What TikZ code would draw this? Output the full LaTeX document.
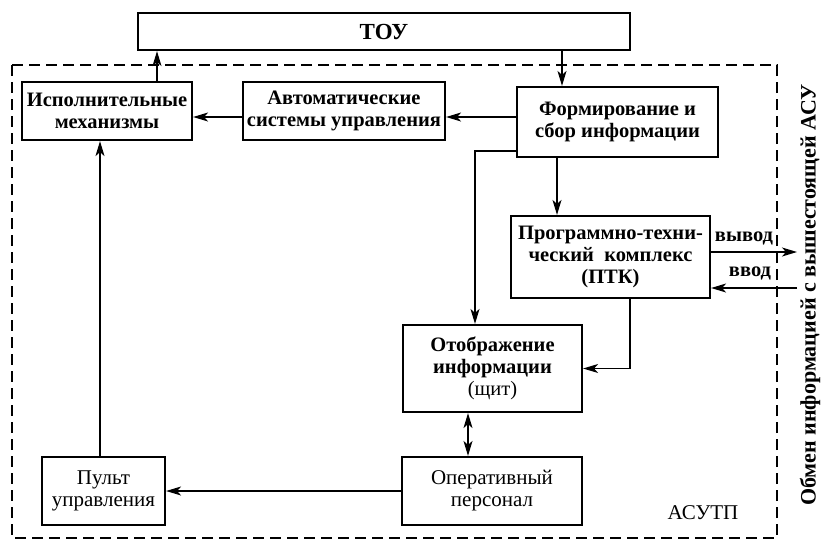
\documentclass[tikz,border=0pt]{standalone}
\usepackage{fontspec}
\setmainfont{Liberation Serif}
\usetikzlibrary{arrows.meta}
\tikzset{
  box/.style={draw, line width=2.2pt, inner sep=0pt, align=center,
    font=\bfseries\fontsize{20.5}{22}\selectfont},
  rbox/.style={box, font=\fontsize{21}{22}\selectfont},
  tip/.tip={Stealth[length=15pt,width=9pt,inset=4pt]},
  conn/.style={line width=1.2pt, -tip},
  bconn/.style={line width=1.2pt, tip-tip},
  frame/.style={line width=1.4pt, dash pattern=on 11pt off 6pt},
  lbl/.style={inner sep=0pt, font=\bfseries\fontsize{20.5}{22}\selectfont}
}
\begin{document}
\begin{tikzpicture}[x=1pt,y=-1pt]
\useasboundingbox (0,0) rectangle (823,547);
% dashed ASUTP frame
\draw[frame] (12,65) rectangle (777,538);
% boxes
\node[box, minimum width=492, minimum height=37, font=\bfseries\fontsize{23}{25}\selectfont] (tou) at (384,31.5) {ТОУ};
\node[box, minimum width=170, minimum height=58] (isp) at (107,111) {Исполнительные\\механизмы};
\node[box, minimum width=202, minimum height=58] (avt) at (344,111) {Автоматические\\системы управления};
\node[box, minimum width=201, minimum height=70] (form) at (617.5,122) {Формирование и\\сбор информации};
\node[box, minimum width=199, minimum height=82] (ptk) at (610.5,257) {Программно-техни-\\ческий\ \ комплекс\\(ПТК)};
\node[box, minimum width=179, minimum height=87] (otob) at (492.5,368.5) {Отображение\\информации\\{\mdseries(щит)}};
\node[rbox, minimum width=180, minimum height=68] (oper) at (492,491) {Оперативный\\персонал};
\node[rbox, minimum width=123, minimum height=68] (pult) at (103.5,491) {Пульт\\управления};
% labels
\node[inner sep=0pt, font=\fontsize{21}{22}\selectfont] (asutp) at (703,513) {АСУТП};
\node[lbl, font=\bfseries\fontsize{22}{24}\selectfont, rotate=90] (obmen) at (810,295) {Обмен информацией с вышестоящей АСУ};
\node[lbl] (vyvod) at (744,238) {вывод};
\node[lbl] (vvod) at (750,273) {ввод};
% helper coordinates
\coordinate (cA) at (157,0);
\coordinate (cB) at (562,0);
\coordinate (cC) at (557,117);
\coordinate (cD) at (475,151);
\coordinate (cE) at (630,0);
\coordinate (cF) at (468,0);
\coordinate (cG) at (100,0);
\coordinate (outE) at (797,252);
\coordinate (inE) at (797,288);
% connectors
\draw[conn] (isp.north -| cA) -- (tou.south -| cA);
\draw[conn] (tou.south -| cB) -- (form.north -| cB);
\draw[conn] (form.west |- cC) -- (avt.east |- cC);
\draw[conn] (avt.west |- cC) -- (isp.east |- cC);
\draw[conn] (form.south -| cC) -- (ptk.north -| cC);
\draw[conn] (form.west |- cD) -| (otob.north -| cD);
\draw[conn] (ptk.south -| cE) |- (otob.east);
\draw[conn] (ptk.east |- outE) -- (outE);
\draw[conn] (inE) -- (ptk.east |- inE);
\draw[bconn] (otob.south -| cF) -- (oper.north -| cF);
\draw[conn] (oper.west) -- (pult.east);
\draw[conn] (pult.north -| cG) -- (isp.south -| cG);
\end{tikzpicture}
\end{document}
